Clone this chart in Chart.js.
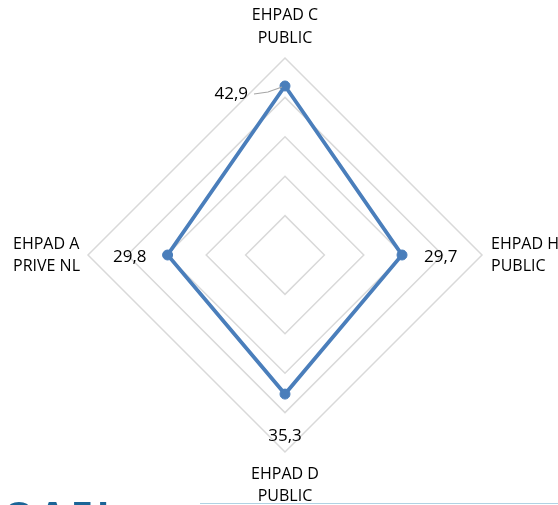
<!DOCTYPE html>
<html>
<head>
<meta charset="utf-8">
<script src="https://cdn.jsdelivr.net/npm/chart.js@4.4.0/dist/chart.umd.min.js"></script>
<style>
  html, body { margin: 0; padding: 0; background: #fff; overflow: hidden; }
  #wrap { position: relative; width: 558px; height: 505px; overflow: hidden; }
  #logo { position: absolute; left: 3px; top: 495px; font: bold 40px/40px "Open Sans", sans-serif; color: #1b6597; letter-spacing: 4px; }
  #rule { position: absolute; left: 200px; top: 503px; width: 358px; height: 1px; background: #b0d2e3; }
</style>
</head>
<body>
<div id="wrap">
  <canvas id="myChart" width="558" height="505"></canvas>
  <div id="logo">OAFI</div>
  <div id="rule"></div>
</div>
<script>
'use strict';

// categories, clockwise from the top
let categories = [['EHPAD C', 'PUBLIC'], ['EHPAD H', 'PUBLIC'], ['EHPAD D', 'PUBLIC'], ['EHPAD A', 'PRIVE NL']];
let values = [42.9, 29.7, 35.3, 29.8];
let scaleMax = 50;
let scaleStep = 10;

let blue = '#4a7ebb';

function formatValue(v) {
  return v.toFixed(1).replace('.', ',');
}

// labels around the chart and the value labels
const labelPlugin = {
  id: 'labelPlugin',
  afterDatasetsDraw(chart) {
    let ctx = chart.ctx;
    let scale = chart.scales.r;
    let points = chart.getDatasetMeta(0).data;
    let outer = scale.drawingArea;

    ctx.save();
    ctx.fillStyle = '#000';
    ctx.textBaseline = 'middle';

    // category labels
    ctx.font = '16px "Open Sans", sans-serif';
    for (let i = 0; i < categories.length; i++) {
      let p = scale.getPointPosition(i, outer);
      let lines = categories[i];
      if (i === 0) {
        ctx.textAlign = 'center';
        ctx.fillText(lines[0], p.x, p.y - 43);
        ctx.fillText(lines[1], p.x, p.y - 20);
      } else if (i === 1) {
        ctx.textAlign = 'left';
        ctx.fillText(lines[0], p.x + 9, p.y - 11);
        ctx.fillText(lines[1], p.x + 9, p.y + 11);
      } else if (i === 2) {
        ctx.textAlign = 'center';
        ctx.fillText(lines[0], p.x, p.y + 22);
        ctx.fillText(lines[1], p.x, p.y + 44);
      } else {
        let w = Math.max(ctx.measureText(lines[0]).width, ctx.measureText(lines[1]).width);
        ctx.textAlign = 'left';
        ctx.fillText(lines[0], p.x - 8 - w, p.y - 11);
        ctx.fillText(lines[1], p.x - 8 - w, p.y + 11);
      }
    }

    // value labels
    ctx.font = '17px "Open Sans", sans-serif';
    for (let i = 0; i < points.length; i++) {
      let pt = points[i];
      let txt = formatValue(values[i]);
      if (i === 0) {
        ctx.textAlign = 'right';
        ctx.fillText(txt, pt.x - 37, pt.y + 8);
        ctx.strokeStyle = '#a6a6a6';
        ctx.lineWidth = 1.2;
        ctx.beginPath();
        ctx.moveTo(pt.x - 31, pt.y + 8);
        ctx.lineTo(pt.x - 17, pt.y + 6);
        ctx.lineTo(pt.x - 3, pt.y + 1);
        ctx.stroke();
      } else if (i === 1) {
        ctx.textAlign = 'left';
        ctx.fillText(txt, pt.x + 22, pt.y + 2);
      } else if (i === 2) {
        ctx.textAlign = 'center';
        ctx.fillText(txt, pt.x, pt.y + 42);
      } else {
        ctx.textAlign = 'right';
        ctx.fillText(txt, pt.x - 21, pt.y + 2);
      }
    }
    ctx.restore();
  }
};

const config = {
  type: 'radar',
  data: {
    labels: categories,
    datasets: [
      {
        data: values,
        borderColor: blue,
        backgroundColor: 'rgba(0,0,0,0)',
        borderWidth: 3.8,
        pointRadius: 5,
        pointBackgroundColor: blue,
        pointBorderColor: blue,
        pointBorderWidth: 1,
        fill: false,
      },
    ],
  },
  options: {
    responsive: false,
    animation: false,
    layout: { padding: 0 },
    plugins: {
      legend: { display: false },
      tooltip: { enabled: false },
    },
    scales: {
      r: {
        min: 0,
        max: scaleMax,
        ticks: { display: false, stepSize: scaleStep },
        grid: { color: '#d9d9d9', lineWidth: 1.5, circular: false },
        angleLines: { display: false },
        pointLabels: { display: false },
        afterFit(scale) {
          scale.xCenter = 285;
          scale.yCenter = 255;
          scale.drawingArea = 197;
        },
      },
    },
  },
  plugins: [labelPlugin],
};

let chartCanvas = document.getElementById('myChart').getContext('2d');
const myChart = new Chart(chartCanvas, config);
</script>
</body>
</html>
